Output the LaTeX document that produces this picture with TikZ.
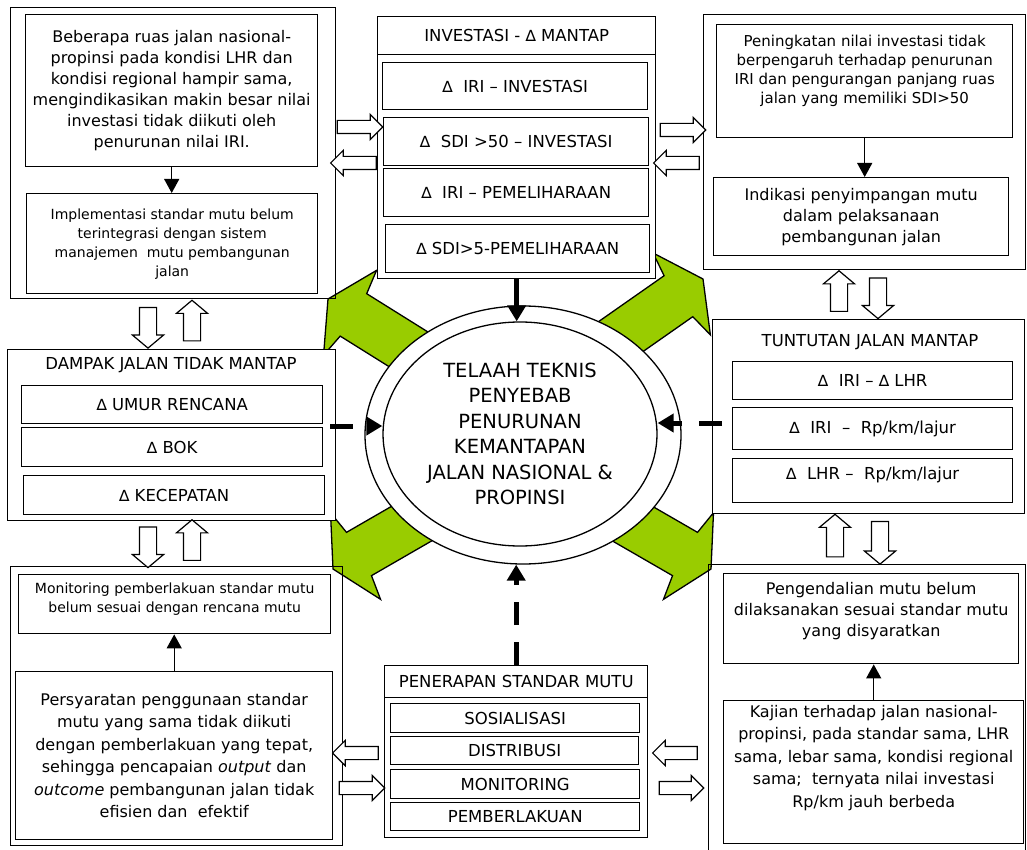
\documentclass[tikz,border=0pt]{standalone}
\usepackage{fontspec}
\setmainfont{DejaVu Sans}
\usetikzlibrary{calc,arrows.meta,shapes.geometric,shapes.arrows}
\definecolor{leafgreen}{HTML}{99CC00}
\tikzset{
  box/.style={draw,line width=1.4pt,fill=white,align=center,inner sep=0pt,anchor=north west},
  frame/.style={draw,line width=1.4pt,inner sep=0pt,anchor=north west},
  ring/.style={draw,line width=1.3pt,fill=white,ellipse,inner sep=0pt,align=center},
  f14/.style={font=\fontsize{14}{19}\selectfont},
  f15/.style={font=\fontsize{15}{19}\selectfont},
  f16/.style={font=\fontsize{16}{21}\selectfont},
  f17/.style={font=\fontsize{16.5}{20}\selectfont},
  f19/.style={font=\fontsize{19.5}{25.5}\selectfont},
  link/.style={line width=1.3pt,-{Triangle[width=15pt,length=14pt]}},
  biglink/.style={line width=5pt,-{Triangle[width=18pt,length=16pt]}},
  dashlink/.style={biglink,dash pattern=on 23pt off 17pt},
  hollowh/.style={single arrow,draw,line width=1.2pt,fill=white,inner sep=6pt,
    single arrow head extend=6pt,single arrow tip angle=90,single arrow head indent=0pt,
    sloped,allow upside down},
  hollowv/.style={hollowh,inner sep=8pt,single arrow head extend=7pt,single arrow tip angle=100},
  leaf/.style={fill=leafgreen,draw=black,line width=1.3pt}
}
\newcommand{\dt}{{\fontsize{15.5}{15}\selectfont ∆}}
\newcommand{\hollow}[4][0]{\path let \p1=($(#4)-(#3)$),\n1={veclen(\x1,\y1)} in
  (#3) -- (#4) node[#2,midway,minimum height={\n1+(#1pt)}]{};}
\newcommand{\leafarrow}[2]{\begin{scope}[shift={#1},rotate=#2]
  \draw[leaf] (0,0) -- (-26,-50) -- (-30,-25) -- (-170,-25) -- (-170,25) -- (-30,25) -- (-26,50) -- cycle;
\end{scope}}

\begin{document}
\begin{tikzpicture}[x=1pt,y=-1pt]
  \useasboundingbox (0,0) rectangle (1027,850);
  % green arrows round the ring
  \leafarrow{(328,299)}{148}
  \leafarrow{(703,279)}{35}
  \leafarrow{(333,569)}{210}
  \leafarrow{(711,569)}{-30}

  % outer frames
  \node[frame,minimum width=325,minimum height=291](tlout)at(10,7){};
  \node[frame,minimum width=322,minimum height=255](trout)at(703,14){};
  \node[frame,minimum width=332,minimum height=279](blout)at(10,566){};
  \node[frame,minimum width=317,minimum height=296](brout)at(708,564){};

  % investasi
  \node[box,minimum width=278,minimum height=262](tcout)at(377,16){};
  \node[box,f17,minimum width=278,minimum height=38](tctitle)at(377,16){INVESTASI - \dt\ MANTAP};
  \node[box,f17,minimum width=265,minimum height=47](tc1)at(382,62){\dt\ \ IRI – INVESTASI};
  \node[box,f17,minimum width=265,minimum height=48](tc2)at(383,117){\dt\ \ SDI >50 – INVESTASI};
  \node[box,f17,minimum width=265,minimum height=48](tc3)at(383,168){\dt\ \ IRI – PEMELIHARAAN};
  \node[box,f17,minimum width=264,minimum height=48](tc4)at(385,224){\dt\ SDI>5-PEMELIHARAAN};

  % dampak
  \node[box,minimum width=328,minimum height=171](dp)at(7,349){};
  \node[f17](dptitle)at(171,365){DAMPAK JALAN TIDAK MANTAP};
  \node[box,f17,minimum width=301,minimum height=38](dp1)at(21,385){\dt\ UMUR RENCANA};
  \node[box,f17,minimum width=301,minimum height=39](dp2)at(21,427){\dt\ BOK};
  \node[box,f17,minimum width=301,minimum height=39](dp3)at(23,475){\dt\ KECEPATAN};

  % tuntutan
  \node[box,minimum width=312,minimum height=194](tt)at(712,319){};
  \node[f17](tttitle)at(870,342){TUNTUTAN JALAN MANTAP};
  \node[box,f17,minimum width=280,minimum height=38](tt1)at(732,361){\dt\ \ IRI – \dt\ LHR};
  \node[box,f17,minimum width=280,minimum height=42](tt2)at(732,407){\dt\ \ IRI\ \ –\ \ Rp/km/lajur};
  \node[box,f17,minimum width=280,minimum height=44](tt3)at(732,458){\dt\ \ LHR –\ \ Rp/km/lajur\\[-6pt]\mbox{}};

  % penerapan
  \node[box,minimum width=263,minimum height=172](pn)at(384,665){};
  \node[box,f17,minimum width=263,minimum height=32](pntitle)at(384,665){PENERAPAN STANDAR MUTU};
  \node[box,f17,minimum width=249,minimum height=29](pn1)at(390,703){SOSIALISASI};
  \node[box,f17,minimum width=248,minimum height=28](pn2)at(390,736){DISTRIBUSI};
  \node[box,f17,minimum width=249,minimum height=29](pn3)at(390,769){MONITORING};
  \node[box,f17,minimum width=249,minimum height=28](pn4)at(390,802){PEMBERLAKUAN};

  % telaah
  \node[ring,minimum width=316,minimum height=258](ringo)at(523,435){};
  \node[ring,f19,minimum width=274,minimum height=224](ringi)at(520,434){TELAAH TEKNIS\\PENYEBAB\\PENURUNAN\\KEMANTAPAN\\JALAN NASIONAL \&\\PROPINSI};

  % boxes inside the frames
  \node[box,f16,minimum width=292,minimum height=152](tla)at(25,14){Beberapa ruas jalan nasional-\\propinsi pada kondisi LHR dan\\kondisi regional hampir sama,\\mengindikasikan makin besar nilai\\investasi tidak diikuti oleh\\penurunan nilai IRI.};
  \node[box,f14,minimum width=291,minimum height=100](tlb)at(26,193){Implementasi standar mutu belum\\terintegrasi dengan sistem\\manajemen\ \ mutu pembangunan\\jalan};
  \node[box,f15,minimum width=296,minimum height=113](tra)at(716,24){Peningkatan nilai investasi tidak\\berpengaruh terhadap penurunan\\IRI dan pengurangan panjang ruas\\jalan yang memiliki SDI>50\\[4pt]\mbox{}};
  \node[box,f16,minimum width=295,minimum height=78](trb)at(713,177){Indikasi penyimpangan mutu\\dalam pelaksanaan\\pembangunan jalan};
  \node[box,f14,minimum width=312,minimum height=59](bla)at(18,574){Monitoring pemberlakuan standar mutu\\belum sesuai dengan rencana mutu\\[-5pt]\mbox{}};
  \node[box,font=\fontsize{16}{22.5}\selectfont,minimum width=317,minimum height=168](blb)at(15,671){Persyaratan penggunaan standar\\mutu yang sama tidak diikuti\\dengan pemberlakuan yang tepat,\\sehingga pencapaian \emph{output} dan\\\emph{outcome} pembangunan jalan tidak\\efisien dan\ \ efektif};
  \node[box,f16,minimum width=295,minimum height=90](bra)at(723,573){Pengendalian mutu belum\\dilaksanakan sesuai standar mutu\\yang disyaratkan\\[-3pt]\mbox{}};
  \node[box,font=\fontsize{16}{22.5}\selectfont,minimum width=300,minimum height=143](brb)at(723,700){Kajian terhadap jalan nasional-\\propinsi, pada standar sama, LHR\\sama, lebar sama, kondisi regional\\sama;\ \ ternyata nilai investasi\\Rp/km jauh berbeda\\[9.5pt]\mbox{}};

  % arrows
  \draw[link](tla.south)--(tla.south|-tlb.north);
  \draw[link](tra.south)--(tra.south|-trb.north);
  \draw[link](blb.north)--(blb.north|-bla.south);
  \draw[link](brb.north)--(brb.north|-bra.south);
  \draw[biglink](tcout.south)--(tcout.south|-ringi.north);
  \coordinate(dpdash)at(330,426);
  \coordinate(ttdash)at(722,423);
  \draw[dashlink](dpdash)--(ringi.west|-dpdash);
  \draw[dashlink](ttdash)--(ringi.east|-ttdash);
  \draw[dashlink](pn.north)--(pn.north|-ringo.south);

  % hollow arrows between the blocks
  \hollow[5]{hollowh}{tlout.east |- 0,127}{tcout.west |- 0,127}
  \hollow[5]{hollowh}{tcout.west |- 0,163}{tlout.east |- 0,163}
  \hollow[-1]{hollowh}{tcout.east |- 0,130}{trout.west |- 0,130}
  \hollow[-1]{hollowh}{trout.west |- 0,163}{tcout.east |- 0,163}
  \hollow[-9]{hollowv}{tlout.south -| 148,0}{dp.north -| 148,0}
  \hollow[-9]{hollowv}{dp.north -| 192,0}{tlout.south -| 192,0}
  \hollow[-4]{hollowv}{dp.south -| 148,0}{blout.north -| 148,0}
  \hollow[-4]{hollowv}{blout.north -| 192,0}{dp.south -| 192,0}
  \hollow[-8]{hollowv}{tt.north -| 839,0}{trout.south -| 839,0}
  \hollow[-8]{hollowv}{trout.south -| 878,0}{tt.north -| 878,0}
  \hollow[-7]{hollowv}{brout.north -| 835,0}{tt.south -| 835,0}
  \hollow[-7]{hollowv}{tt.south -| 880,0}{brout.north -| 880,0}
  \hollow[-5]{hollowh}{pn.west |- 0,753}{blb.east |- 0,753}
  \hollow[-5]{hollowh}{blb.east |- 0,788}{pn.west |- 0,788}
  \hollow[-15]{hollowh}{brout.west |- 0,753}{pn.east |- 0,753}
  \hollow[-15]{hollowh}{pn.east |- 0,788}{brout.west |- 0,788}
\end{tikzpicture}
\end{document}
